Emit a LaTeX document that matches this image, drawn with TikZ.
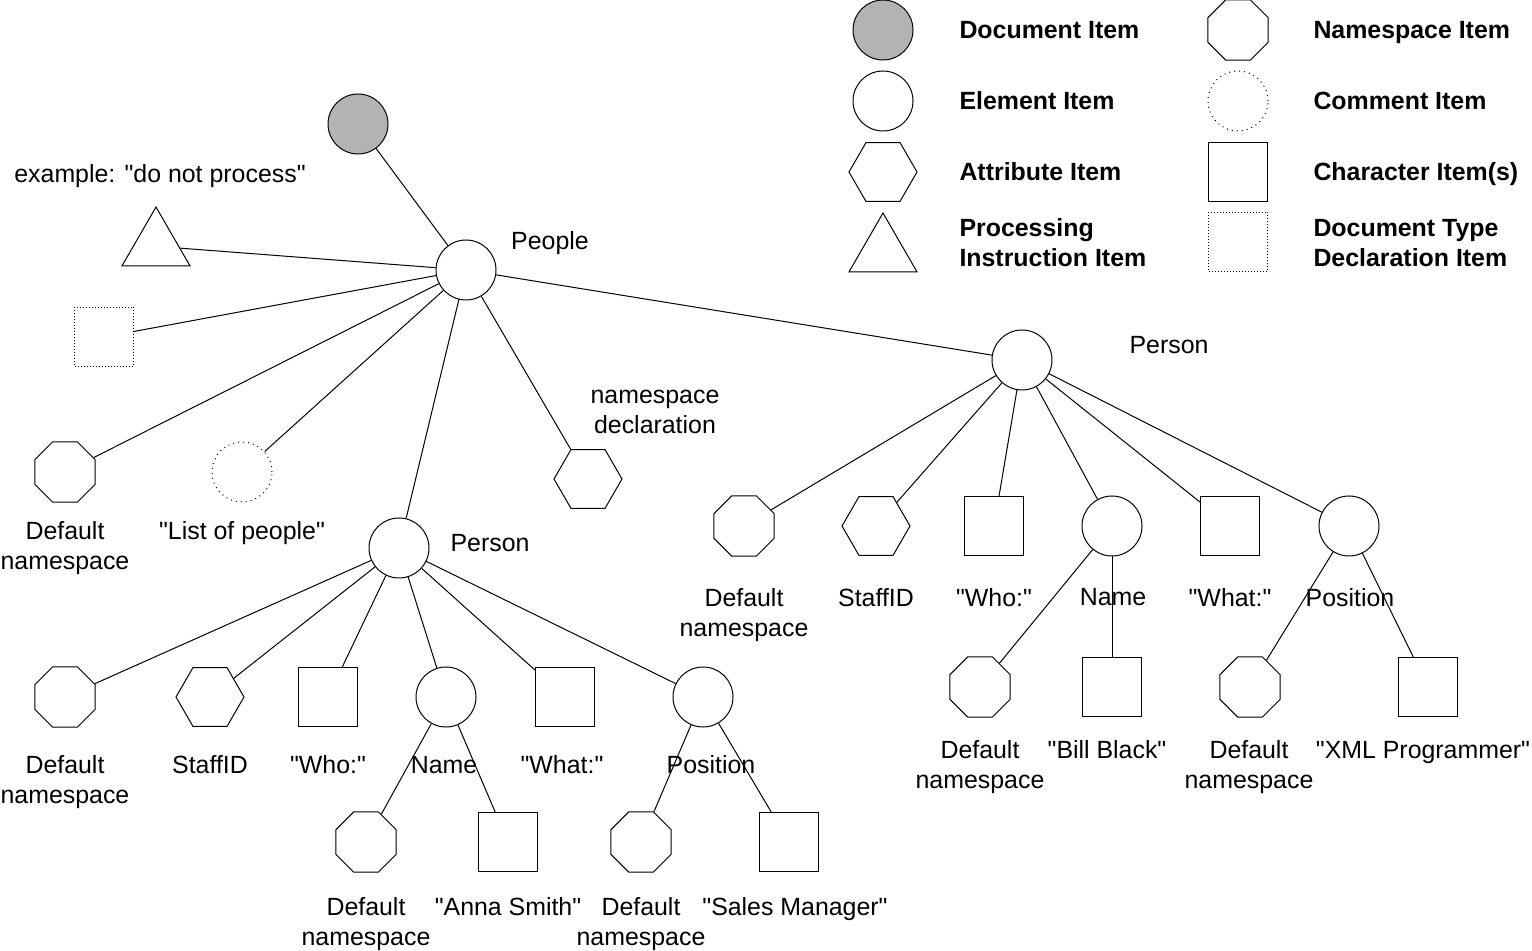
\documentclass[tikz,border=0pt]{standalone}
\usepackage{fontspec}
\newfontfamily\lblfont{Liberation Sans}
\usetikzlibrary{shapes.geometric}
\begin{document}
\begin{tikzpicture}[x=0.5pt,y=-0.5pt,line width=0.5pt,
  elem/.style={circle,draw,minimum size=30pt,inner sep=0pt},
  docitem/.style={elem,fill=docgray},
  comm/.style={elem,dotted},
  nsitem/.style={regular polygon,regular polygon sides=8,draw,minimum size=32.5pt,inner sep=0pt},
  attr/.style={regular polygon,regular polygon sides=6,draw,minimum size=34pt,inner sep=0pt},
  piitem/.style={regular polygon,regular polygon sides=3,draw,minimum size=39.3pt,inner sep=0pt},
  chr/.style={rectangle,draw,minimum size=29.5pt,inner sep=0pt},
  dtd/.style={chr,densely dotted},
  lbl/.style={anchor=base,font=\lblfont\fontsize{12.45}{15}\selectfont,align=center,inner sep=0pt},
  leg/.style={anchor=base west,font=\lblfont\fontsize{12.45}{15}\selectfont\bfseries,align=left,inner sep=0pt}]
\definecolor{docgray}{HTML}{B3B3B3}
\useasboundingbox (0,0) rectangle (1532,951);

% legend
\node[docitem] (lg1) at (883,30) {};
\node[elem] (lg2) at (883,101) {};
\node[attr] (lg3) at (883,172) {};
\node[piitem] (lg4) at (883,252.3) {};
\node[nsitem] (lg5) at (1238,30) {};
\node[comm] (lg6) at (1238,101) {};
\node[chr] (lg7) at (1238,172) {};
\node[dtd] (lg8) at (1238,242) {};
\node[leg] (lt1) at (959,39) {Document Item};
\node[leg] (lt2) at (959,110) {Element Item};
\node[leg] (lt3) at (959,181) {Attribute Item};
\node[leg] (lt4) at (959,267) {Processing\\Instruction Item};
\node[leg] (lt5) at (1313,39) {Namespace Item};
\node[leg] (lt6) at (1313,110) {Comment Item};
\node[leg] (lt7) at (1313,181) {Character Item(s)};
\node[leg] (lt8) at (1313,267) {Document Type\\Declaration Item};

% tree
\node[docitem] (doc) at (358,124) {};
\node[elem] (people) at (466,270) {};
\node[piitem] (pi) at (156,246.3) {};
\node[dtd] (dt) at (104,337) {};
\node[nsitem] (ns0) at (65,472) {};
\node[comm] (cm) at (242,472) {};
\node[attr] (nsd) at (588,479) {};
\node[elem] (p1) at (399,548) {};
\node[elem] (p2) at (1022,360) {};

% person 1 children
\node[nsitem] (a1) at (65,697) {};
\node[attr] (a2) at (210,697) {};
\node[chr] (a3) at (328,697) {};
\node[elem] (a4) at (446,697) {};
\node[chr] (a5) at (565,697) {};
\node[elem] (a6) at (703,697) {};
\node[nsitem] (a41) at (366,842) {};
\node[chr] (a42) at (508,842) {};
\node[nsitem] (a61) at (641,842) {};
\node[chr] (a62) at (789,842) {};

% person 2 children
\node[nsitem] (b1) at (744,526) {};
\node[attr] (b2) at (876,526) {};
\node[chr] (b3) at (994,526) {};
\node[elem] (b4) at (1112,526) {};
\node[chr] (b5) at (1230,526) {};
\node[elem] (b6) at (1349,526) {};
\node[nsitem] (b41) at (980,687) {};
\node[chr] (b42) at (1112,687) {};
\node[nsitem] (b61) at (1250,687) {};
\node[chr] (b62) at (1428,687) {};

% connectors
\draw (doc) -- (people);
\foreach \n in {pi,dt,ns0,cm,p1,nsd,p2} \draw (people) -- (\n);
\foreach \n in {a1,a2,a3,a4,a5,a6} \draw (p1) -- (\n);
\draw (a4) -- (a41); \draw (a4) -- (a42);
\draw (a6) -- (a61); \draw (a6) -- (a62);
\foreach \n in {b1,b2,b3,b4,b5,b6} \draw (p2) -- (\n);
\draw (b4) -- (b41); \draw (b4) -- (b42);
\draw (b6) -- (b61); \draw (b6) -- (b62);

% top labels
\node[lbl] (tpi) at (160,183) {example: "do not process"};
\node[lbl] (tpeople) at (550,250) {People};
\node[lbl] (tns0) at (65,570) {Default\\namespace};
\node[lbl] (tcm) at (242,540) {"List of people"};
\node[lbl] (tnsd) at (655,434) {namespace\\declaration};
\node[lbl] (tp1) at (490,552) {Person};
\node[lbl] (tp2) at (1169,354) {Person};

% labels for person 1 subtree
\node[lbl] (ta1) at (65,803) {Default\\namespace};
\node[lbl] (ta2) at (210,773) {StaffID};
\node[lbl] (ta3) at (328,773) {"Who:"};
\node[lbl] (ta4) at (444,773) {Name};
\node[lbl] (ta5) at (562,773) {"What:"};
\node[lbl] (ta6) at (711,773) {Position};
\node[lbl] (ta41) at (366,945) {Default\\namespace};
\node[lbl] (ta42) at (508,915) {"Anna Smith"};
\node[lbl] (ta61) at (641,945) {Default\\namespace};
\node[lbl] (ta62) at (795,915) {"Sales Manager"};

% labels for person 2 subtree
\node[lbl] (tb1) at (744,637) {Default\\namespace};
\node[lbl] (tb2) at (876,607) {StaffID};
\node[lbl] (tb3) at (994,607) {"Who:"};
\node[lbl] (tb4) at (1113,606) {Name};
\node[lbl] (tb5) at (1230,607) {"What:"};
\node[lbl] (tb6) at (1350,607) {Position};
\node[lbl] (tb41) at (980,788) {Default\\namespace};
\node[lbl] (tb42) at (1107,758) {"Bill Black"};
\node[lbl] (tb61) at (1249,788) {Default\\namespace};
\node[lbl] (tb62) at (1423,758) {"XML Programmer"};
\end{tikzpicture}
\end{document}
